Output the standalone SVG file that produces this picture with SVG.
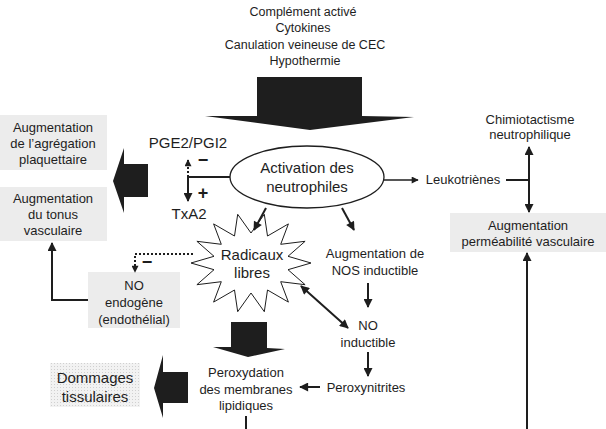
<svg xmlns="http://www.w3.org/2000/svg" width="606" height="429" viewBox="0 0 606 429">
<style>
text{font-family:"Liberation Sans",Arial,sans-serif;fill:#1e1e1e;text-anchor:middle}
.s13{font-size:13px}
.s12{font-size:12.5px}
.s15{font-size:15px}
.sg{font-size:18px;font-weight:bold}
.box{fill:#ececec;stroke:none}
.ln{fill:none;stroke:#1e1e1e;stroke-width:2}
.thin{fill:none;stroke:#1e1e1e;stroke-width:1.3}
.dot{fill:none;stroke:#1e1e1e;stroke-width:2;stroke-dasharray:2 2}
.big{fill:#1e1e1e;stroke:none}
</style>
<defs>
<marker id="ahs" viewBox="0 0 10 10" refX="9" refY="5" markerWidth="9" markerHeight="7" orient="auto-start-reverse" markerUnits="userSpaceOnUse">
<path d="M0,0 L10,5 L0,10 z" fill="#1e1e1e"/>
</marker>
<marker id="ahb" viewBox="0 0 10 10" refX="9" refY="5" markerWidth="10" markerHeight="9" orient="auto-start-reverse" markerUnits="userSpaceOnUse">
<path d="M0,0 L10,5 L0,10 z" fill="#1e1e1e"/>
</marker>
<pattern id="dots" width="3" height="3" patternUnits="userSpaceOnUse">
<rect width="3" height="3" fill="#f2f2f2"/>
<rect width="1" height="1" fill="#d0d0d0"/>
</pattern>
</defs>

<g id="causes">
<text class="s12" x="303" y="16">Complément activé</text>
<text class="s12" x="303" y="32">Cytokines</text>
<text class="s12" x="305" y="49">Canulation veineuse de CEC</text>
<text class="s12" x="305" y="65">Hypothermie</text>
</g>

<g id="activation">
<ellipse cx="307" cy="177" rx="77" ry="31" fill="#fff" stroke="#1e1e1e" stroke-width="1.3"/>
<text class="s15" x="307" y="173">Activation des</text>
<text class="s15" x="307" y="192">neutrophiles</text>
</g>

<g id="pge2">
<text class="s15" x="188" y="148">PGE2/PGI2</text>
</g>
<g id="txa2">
<text class="s15" x="189" y="219">TxA2</text>
</g>

<g id="agregation">
<rect class="box" x="0" y="115" width="107" height="55"/>
<text class="s13" x="53" y="132">Augmentation</text>
<text class="s13" x="53" y="148">de l’agrégation</text>
<text class="s13" x="53" y="164">plaquettaire</text>
</g>

<g id="tonus">
<rect class="box" x="0" y="187" width="107" height="54"/>
<text class="s13" x="53" y="203">Augmentation</text>
<text class="s13" x="53" y="219">du tonus</text>
<text class="s13" x="53" y="235">vasculaire</text>
</g>

<g id="leukotrienes">
<text class="s13" x="463" y="184">Leukotriènes</text>
</g>

<g id="chimiotactisme">
<text class="s13" x="530" y="124">Chimiotactisme</text>
<text class="s13" x="530" y="139">neutrophilique</text>
</g>

<g id="permeabilite">
<rect class="box" x="450" y="213" width="156" height="39"/>
<text class="s13" x="528" y="230">Augmentation</text>
<text class="s13" x="528" y="246">perméabilité vasculaire</text>
</g>

<g id="radicaux">
<polygon fill="#fff" stroke="#1e1e1e" stroke-width="1" points="191,263 214,256.3 196.9,241.3 221.3,244.3 213.6,223.9 234.5,236 237.7,214.3 251,233 264.3,214.3 267.5,236 288.4,223.9 280.7,244.3 305.1,241.3 288,256.3 311,263 288,269.7 305.1,284.7 280.7,281.7 288.4,302.1 267.5,290 264.3,311.7 251,293 237.7,311.7 234.5,290 213.6,302.1 221.3,281.7 196.9,284.7 214,269.7"/>
<text class="s15" x="252" y="260">Radicaux</text>
<text class="s15" x="252" y="278">libres</text>
</g>

<g id="nos">
<text class="s13" x="375" y="258">Augmentation de</text>
<text class="s13" x="375" y="275">NOS inductible</text>
</g>

<g id="no_inductible">
<text class="s13" x="368" y="330">NO</text>
<text class="s13" x="368" y="347">inductible</text>
</g>

<g id="peroxynitrites">
<text class="s13" x="366" y="392">Peroxynitrites</text>
</g>

<g id="no_endogene">
<rect class="box" x="88" y="272" width="92" height="56"/>
<text class="s13" x="134" y="290">NO</text>
<text class="s13" x="134" y="307">endogène</text>
<text class="s13" x="134" y="324">(endothélial)</text>
</g>

<g id="peroxydation">
<text class="s13" x="246" y="377">Peroxydation</text>
<text class="s13" x="246" y="394">des membranes</text>
<text class="s13" x="246" y="410">lipidiques</text>
</g>

<g id="dommages">
<rect x="50" y="363" width="90" height="44" fill="url(#dots)"/>
<text class="s15" x="95" y="383">Dommages</text>
<text class="s15" x="95" y="402">tissulaires</text>
</g>

<g id="connectors">
<polygon class="big" points="257,77 362,77 362,116 414,117 310,130 205,116 257,116"/>
<line class="thin" x1="384" y1="180" x2="418" y2="180" marker-end="url(#ahs)"/>
<line class="ln" x1="506" y1="180" x2="529" y2="180"/>
<line class="ln" x1="529" y1="180" x2="529" y2="147" marker-end="url(#ahb)"/>
<line class="ln" x1="529" y1="180" x2="529" y2="212" marker-end="url(#ahb)"/>
<line class="ln" x1="527" y1="429" x2="527" y2="253" marker-end="url(#ahb)"/>
<line class="ln" x1="230" y1="177" x2="188" y2="177"/>
<line class="dot" x1="188" y1="177" x2="188" y2="160" marker-end="url(#ahs)"/>
<line class="ln" x1="188" y1="177" x2="188" y2="201" marker-end="url(#ahb)"/>
<polygon class="big" points="148,164 148,197 124,197 124,213 113,181 124,148 124,164"/>
<line class="ln" x1="266" y1="208" x2="254" y2="230" marker-end="url(#ahb)"/>
<line class="ln" x1="342" y1="208" x2="354" y2="230" marker-end="url(#ahb)"/>
<line class="ln" x1="368" y1="283" x2="368" y2="307" marker-end="url(#ahb)"/>
<line class="ln" x1="368" y1="352" x2="368" y2="376" marker-end="url(#ahb)"/>
<line class="ln" x1="320" y1="387" x2="300" y2="387" marker-end="url(#ahb)"/>
<line class="ln" x1="301" y1="286" x2="348" y2="328" marker-start="url(#ahb)" marker-end="url(#ahb)"/>
<polyline class="dot" points="193,254 135,254 135,272" marker-end="url(#ahs)"/>
<polyline class="ln" points="88,300 52,300 52,243" marker-end="url(#ahb)"/>
<polygon class="big" points="231,322 267,322 267,348 285,349 248,357 213,347 231,347"/>
<polygon class="big" points="188,372 188,403 163,403 163,418 154,388 163,355 163,372"/>
<line class="ln" x1="246" y1="416" x2="246" y2="429"/>
</g>

<g id="signs">
<text class="sg" x="203" y="166">−</text>
<text class="sg" x="203" y="199">+</text>
<text class="sg" x="147" y="268">−</text>
</g>
</svg>
